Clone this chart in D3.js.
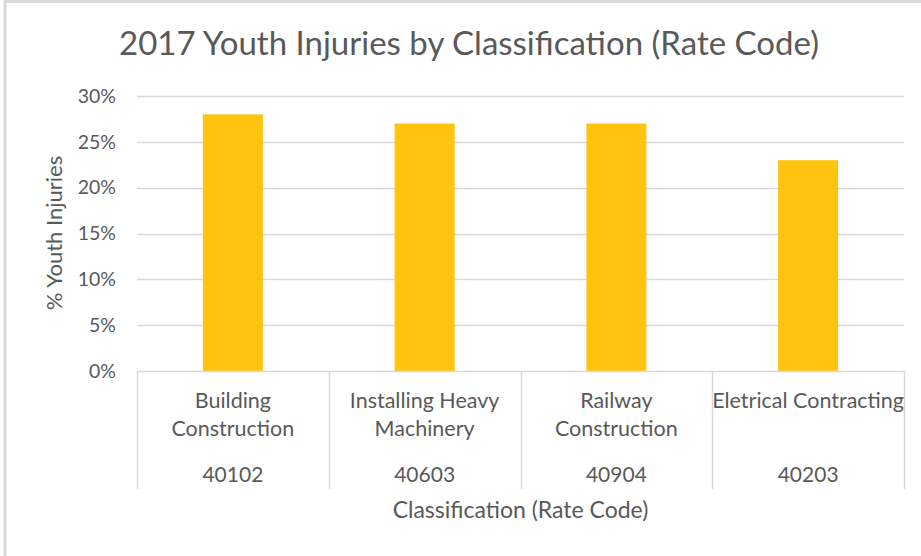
<!DOCTYPE html>
<html>
<head>
<meta charset="utf-8">
<script src="https://cdn.jsdelivr.net/npm/d3@7"></script>
<style>
  body { margin: 0; background: #fff; }
  svg { display: block; }
  text { font-family: Lato, "Open Sans", sans-serif; fill: #595959; }
</style>
</head>
<body>
<div id="chart"></div>
<script>
// chart data
var categories = ['Building Construction', 'Installing Heavy Machinery', 'Railway Construction', 'Eletrical Contracting'];
var category_lines = [['Building', 'Construction'], ['Installing Heavy', 'Machinery'], ['Railway', 'Construction'], ['Eletrical Contracting']];
var rate_codes = ['40102', '40603', '40904', '40203'];
var youth_injuries = [0.28, 0.27, 0.27, 0.23];
var y_ticks = [0, 0.05, 0.10, 0.15, 0.20, 0.25, 0.30];

// canvas
var width = 921, height = 556;
var plot = { left: 137, right: 904, top: 96, bottom: 371 };
var grid_color = '#d9d9d9';

var svg = d3.select('#chart').append('svg')
    .attr('width', width)
    .attr('height', height);

// chart frame
svg.append('rect')
    .attr('x', 5).attr('y', 1.5)
    .attr('width', width + 20).attr('height', height + 20)
    .attr('fill', 'none')
    .attr('stroke', '#d9d9d9')
    .attr('stroke-width', 3);

// scales
var x = d3.scaleBand()
    .domain(rate_codes)
    .range([plot.left, plot.right])
    .padding(0);

var y = d3.scaleLinear()
    .domain([0, 0.30])
    .range([plot.bottom, plot.top]);

var bar_width = x.bandwidth() * 0.313;

// gridlines
svg.append('g')
    .selectAll('line')
    .data(y_ticks.filter(function(d) { return d > 0; }))
    .enter().append('line')
    .attr('x1', plot.left).attr('x2', plot.right)
    .attr('y1', function(d) { return Math.round(y(d)) + 0.5; })
    .attr('y2', function(d) { return Math.round(y(d)) + 0.5; })
    .attr('stroke', grid_color)
    .attr('stroke-width', 1.5);

// y axis labels
var y_axis = d3.axisLeft(y)
    .tickValues(y_ticks)
    .tickFormat(d3.format('.0%'))
    .tickSize(0)
    .tickPadding(0);

var y_group = svg.append('g')
    .attr('transform', 'translate(116,0)')
    .call(y_axis);
y_group.select('.domain').remove();
y_group.selectAll('text')
    .style('font-family', 'Lato, sans-serif')
    .style('font-size', '19.5px')
    .attr('fill', '#595959');

// bars
svg.append('g')
    .selectAll('rect')
    .data(youth_injuries)
    .enter().append('rect')
    .attr('x', function(d, i) { return x(rate_codes[i]) + (x.bandwidth() - bar_width) / 2; })
    .attr('y', function(d) { return y(d); })
    .attr('width', bar_width)
    .attr('height', function(d) { return y(0) - y(d); })
    .attr('fill', '#FFC310');

// category axis line
svg.append('line')
    .attr('x1', plot.left).attr('x2', plot.right)
    .attr('y1', plot.bottom + 0.5).attr('y2', plot.bottom + 0.5)
    .attr('stroke', grid_color)
    .attr('stroke-width', 1.5);

// category separators
var bounds = rate_codes.map(function(c) { return x(c); }).concat([plot.right]);
svg.append('g')
    .selectAll('line')
    .data(bounds)
    .enter().append('line')
    .attr('x1', function(d) { return Math.round(d) + 0.5; })
    .attr('x2', function(d) { return Math.round(d) + 0.5; })
    .attr('y1', plot.bottom)
    .attr('y2', 489)
    .attr('stroke', grid_color)
    .attr('stroke-width', 1.5);

// category names (first level)
var name_group = svg.append('g');
category_lines.forEach(function(lines, i) {
    var cx = x(rate_codes[i]) + x.bandwidth() / 2;
    lines.forEach(function(line, j) {
        name_group.append('text')
            .attr('x', cx)
            .attr('y', 408 + j * 28)
            .attr('text-anchor', 'middle')
            .style('font-size', '21.5px')
            .text(line);
    });
});

// rate codes (second level)
svg.append('g')
    .selectAll('text')
    .data(rate_codes)
    .enter().append('text')
    .attr('x', function(d) { return x(d) + x.bandwidth() / 2; })
    .attr('y', 482)
    .attr('text-anchor', 'middle')
    .style('font-size', '21px')
    .text(function(d) { return d; });

// axis titles
svg.append('text')
    .attr('x', (plot.left + plot.right) / 2)
    .attr('y', 518)
    .attr('text-anchor', 'middle')
    .style('font-size', '23px')
    .text('Classification (Rate Code)');

svg.append('text')
    .attr('transform', 'translate(62,233) rotate(-90)')
    .attr('text-anchor', 'middle')
    .style('font-size', '22px')
    .text('% Youth Injuries');

// chart title
svg.append('text')
    .attr('x', 469)
    .attr('y', 55)
    .attr('text-anchor', 'middle')
    .style('font-size', '33px')
    .text('2017 Youth Injuries by Classification (Rate Code)');
</script>
</body>
</html>
